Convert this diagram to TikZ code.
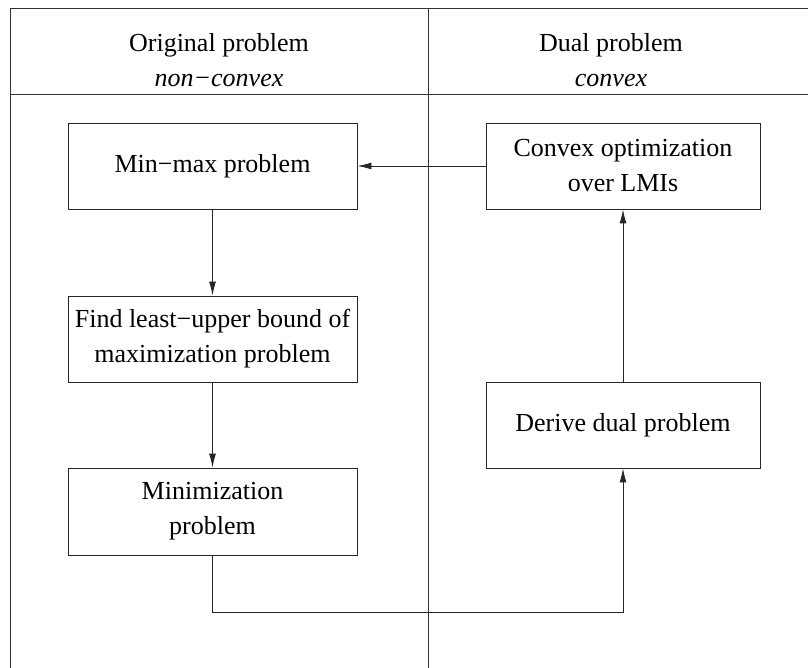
\documentclass[tikz,border=0pt]{standalone}
\usepackage{fontspec}
\setmainfont{Liberation Serif}
\usetikzlibrary{arrows.meta}
\tikzset{
  frame/.style={line width=0.9pt, draw=black!80},
  stepbox/.style={draw=black!85, line width=0.9pt, rectangle, align=center, inner sep=0pt,
    font=\fontsize{26}{35}\selectfont},
  leftbox/.style={stepbox, minimum width=289pt, minimum height=86pt},
  rightbox/.style={stepbox, minimum width=274pt, minimum height=86pt},
  head/.style={align=center, inner sep=0pt, font=\fontsize{26}{35}\selectfont},
  conn/.style={line width=0.9pt, draw=black!85, -{Latex[length=14pt,width=7pt]}}
}
\begin{document}
\begin{tikzpicture}[x=1pt,y=-1pt]
\useasboundingbox (0,0) rectangle (808,668);
% frame
\draw[frame] (10,668) -- (10,8) -- (808,8);
\draw[frame] (10,94) -- (808,94);
\draw[frame] (428,8) -- (428,668);
% headers
\node[head] (h1) at (219,60) {Original problem\\\textit{non−convex}};
\node[head] (h2) at (611,60) {Dual problem\\\textit{convex}};
% boxes
\node[leftbox] (minmax) at (212.5,166) {Min−max problem};
\node[leftbox] (find) at (212.5,339) {Find least−upper bound of\\maximization problem};
\node[leftbox, minimum height=87pt] (minim) at (212.5,511.5) {Minimization\\problem};
\node[rightbox] (convex) at (623,166) {Convex optimization\\over LMIs};
\node[rightbox] (derive) at (623,425) {Derive dual problem};
\coordinate (c1) at (212.5,612);
\coordinate (c2) at (623,612);
% connectors
\draw[conn] (convex.west) -- (minmax.east);
\draw[conn] (minmax.south) -- (find.north);
\draw[conn] (find.south) -- (minim.north);
\draw[conn] (minim.south) -- (c1) -- (c2) -- (derive.south);
\draw[conn] (derive.north) -- (convex.south);
\end{tikzpicture}
\end{document}
